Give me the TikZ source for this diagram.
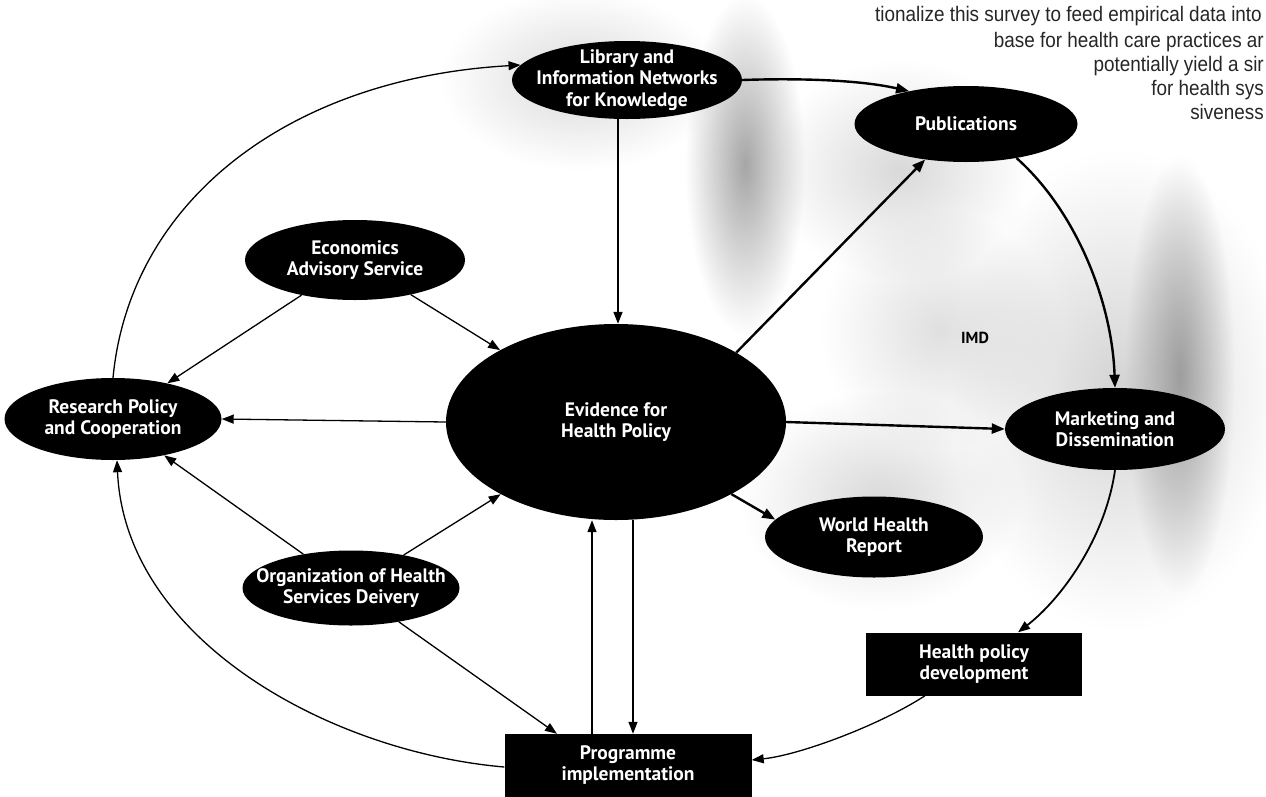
\documentclass[tikz,border=0pt]{standalone}
\usepackage{fontspec}
\newfontfamily\lblfont{PT Sans}
\newfontfamily\bodyfont[FakeStretch=0.9]{Liberation Sans}
\usetikzlibrary{shapes.geometric,arrows.meta,fadings}
\tikzfading[name=softblob, inner color=transparent!0, outer color=transparent!100]
\tikzset{
  ell/.style={ellipse, fill=black, inner sep=0pt},
  blk/.style={rectangle, fill=black, inner sep=0pt},
  lbl/.style={text=white, inner sep=0pt, align=center,
    font=\lblfont\bfseries\fontsize{19.5}{21.5}\selectfont},
  arr/.style={-{Triangle[length=12pt,width=9pt]}, line width=1.3pt},
  tarr/.style={-{Triangle[length=13pt,width=10pt]}, line width=2.4pt},
  bodytxt/.style={anchor=base east, inner sep=0pt, text=black!85,
    font=\bodyfont\fontsize{21}{24}\selectfont},
  speck/.style={fill=gray, draw=none}
}
\begin{document}
\begin{tikzpicture}[x=1pt,y=-1pt]
\useasboundingbox (0,0) rectangle (1266,796);
\clip (0,0) rectangle (1266,796);
% scanned stipple background (soft blobs)
\fill[speck, opacity=0.7, path fading=softblob] (745,165) ellipse (60pt and 170pt);
\fill[speck, opacity=0.7, path fading=softblob] (1180,375) ellipse (55pt and 220pt);
\fill[speck, opacity=0.35, path fading=softblob] (1120,390) ellipse (170pt and 240pt);
\fill[speck, opacity=0.3, path fading=softblob] (580,80) ellipse (140pt and 90pt);
\fill[speck, opacity=0.3, path fading=softblob] (900,170) ellipse (130pt and 110pt);
\fill[speck, opacity=0.3, path fading=softblob] (880,500) ellipse (140pt and 110pt);
\fill[speck, opacity=0.25, path fading=softblob] (940,330) ellipse (120pt and 120pt);

% top-right body text
\node[bodytxt] (t1) at (1262,21) {tionalize this survey to feed empirical data into};
\node[bodytxt] (t2) at (1264,47) {base for health care practices ar};
\node[bodytxt] (t3) at (1264,71) {potentially yield a sir};
\node[bodytxt] (t4) at (1264,95) {for health sys};
\node[bodytxt] (t5) at (1264,119) {siveness};

% nodes (shapes)
\node[ell, minimum width=230pt, minimum height=78pt] (lib) at (627,80) {};
\node[ell, minimum width=223pt, minimum height=76pt] (pub) at (966,124) {};
\node[ell, minimum width=220pt, minimum height=80pt] (eco) at (355,260) {};
\node[ell, minimum width=340pt, minimum height=196pt] (ev) at (616,422) {};
\node[ell, minimum width=217pt, minimum height=82pt] (res) at (113,419) {};
\node[ell, minimum width=220pt, minimum height=82pt] (mkt) at (1115,429) {};
\node[ell, minimum width=218pt, minimum height=81pt] (whr) at (874,537) {};
\node[ell, minimum width=217pt, minimum height=75pt] (org) at (351,588) {};
\node[blk, minimum width=216pt, minimum height=63pt] (hpd) at (974,664) {};
\node[blk, minimum width=247pt, minimum height=66pt] (prog) at (628,767) {};
% node texts
\node[lbl] (lib-t) at (lib.center) {Library and\\Information Networks\\for Knowledge};
\node[lbl] (pub-t) at (pub.center) {Publications};
\node[lbl] (eco-t) at (eco.center) {Economics\\Advisory Service};
\node[lbl] (ev-t) at (ev.center) {Evidence for\\Health Policy};
\node[lbl] (res-t) at (res.center) {Research Policy\\and Cooperation};
\node[lbl] (mkt-t) at (mkt.center) {Marketing and\\Dissemination};
\node[lbl] (whr-t) at (whr.center) {World Health\\Report};
\node[lbl] (org-t) at (org.center) {Organization of Health\\Services Deivery};
\node[lbl] (hpd-t) at (hpd.center) {Health policy\\development};
\node[lbl] (prog-t) at ([yshift=2pt]prog.center) {Programme\\implementation};
\node[font=\lblfont\bfseries\fontsize{16}{18}\selectfont, inner sep=0pt] (imd) at (975,338) {IMD};

% connectors
\draw[arr] (res.north) .. controls (130,200) and (290,78) .. (lib.172);
\draw[tarr] (lib.east) .. controls (800,78) and (860,80) .. (pub.150);
\draw[arr, line width=1.6pt] ([xshift=-9pt]lib.south) -- ([xshift=2pt]ev.north);
\draw[tarr] (ev.30) -- (pub.221);
\draw[tarr] (pub.326) .. controls (1075,210) and (1112,300) .. (mkt.north);
\draw[tarr] (ev.east) -- (mkt.west);
\draw[arr] (ev.west) -- (res.east);
\draw[arr] (eco) -- (res);
\draw[arr] (eco) -- (ev);
\draw[arr] (org) -- (res);
\draw[arr] (org) -- (ev);
\draw[arr] (org) -- ([xshift=-71pt]prog.north);
\draw[tarr] (ev.-32) -- (whr.170);
\draw[arr] ([xshift=-36pt]prog.north) -- ([xshift=-24pt]ev.south);
\draw[arr] ([xshift=17pt]ev.south) -- ([xshift=5pt]prog.north);
\draw[arr] (prog.west) .. controls (330,752) and (125,640) .. ([xshift=4pt]res.south);
\draw[arr, line width=1.8pt] (mkt.south) .. controls (1105,540) and (1060,600) .. ([xshift=44pt]hpd.north);
\draw[arr] ([xshift=-49pt]hpd.south) .. controls (880,725) and (800,755) .. ([yshift=7pt]prog.east);
\end{tikzpicture}
\end{document}
